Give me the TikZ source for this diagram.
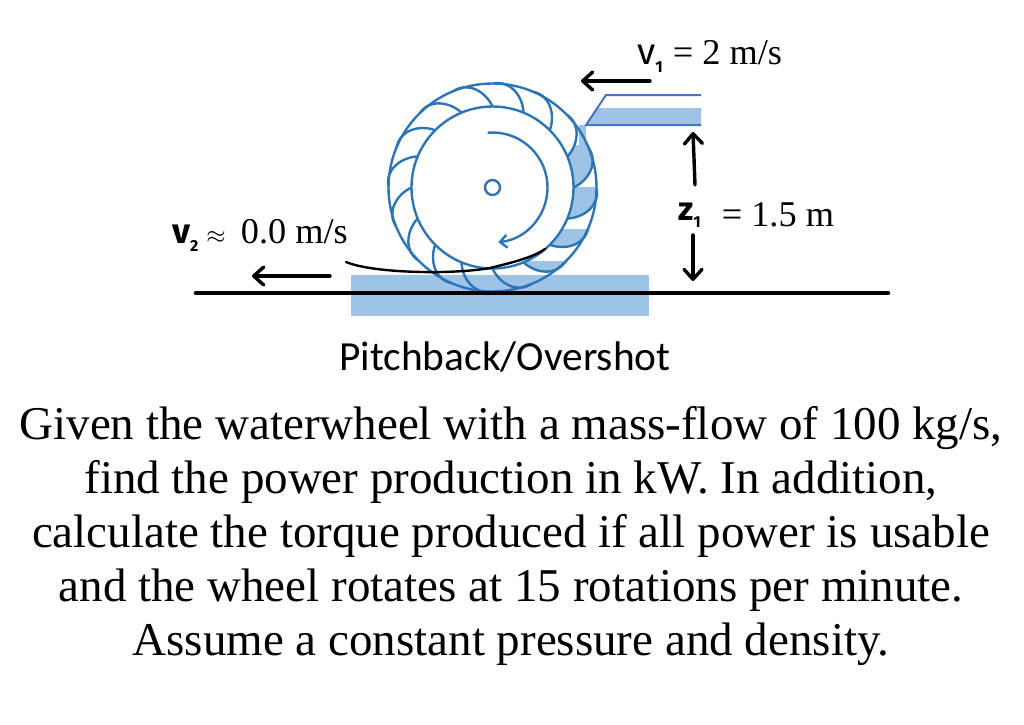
\documentclass[tikz,border=0pt]{standalone}
\usepackage{fontspec}
\setmainfont{Liberation Serif}
\newfontfamily\capfont{Carlito}
\newfontfamily\handfont{Fira Sans}
\usetikzlibrary{arrows.meta}
\definecolor{water}{HTML}{9DC3E6}
\definecolor{wheelblue}{HTML}{2E75B6}
\definecolor{chuteblue}{HTML}{4472C4}
\newcommand{\bladecurve}[1]{(#1:81) .. controls (#1+4:96) and (#1+13:109) .. (#1+22:104)}
\newcommand{\hwmain}[1]{{\handfont\fontsize{37}{37}\selectfont #1}}
\newcommand{\hwsub}[1]{\raisebox{-8pt}{\handfont\bfseries\fontsize{16}{16}\selectfont #1}}
\tikzset{
  wheelline/.style={draw=wheelblue,line width=2.4pt},
  chuteline/.style={draw=chuteblue,line width=2pt},
  handarrow/.style={draw=black,line width=3.4pt,line cap=round,-{Straight Barb[length=10pt,width=18pt,round,line width=3.4pt]}},
  label/.style={inner sep=0pt,font=\fontsize{36.3}{40}\selectfont,anchor=base west},
}
\begin{document}
\begin{tikzpicture}[x=1pt,y=-1pt]
\useasboundingbox (0,0) rectangle (1024,724);
% water on the ground and in the chute
\fill[water] (351,275) rectangle (649,316);
\fill[water] (597,108) -- (701,108) -- (701,125) -- (586,125) -- cycle;
\fill[water] (579,125) rectangle (586,150);
\draw[chuteline] (701,95) -- (606,95) -- (586,125) -- (701,125);
% wheel
\begin{scope}[shift={(492.5,187.5)},x=1pt,y=1pt]
  \foreach \a/\lvl in {0/42.5,-22.5/0.5,-45/-41.5,-67.5/-73.5}{
    \begin{scope}
      \pgfmathsetmacro{\b}{\a+22.5}
      \clip \bladecurve{\a} arc[start angle=\a+22,end angle=\a+44.5,radius=104]
        .. controls (\b+13:109) and (\b+4:96) .. (\b:81)
        arc[start angle=\b,end angle=\a,radius=81] -- cycle;
      \fill[water] (-200,\lvl) rectangle (200,-200);
    \end{scope}
  }
  \foreach \a in {0,22.5,...,337.5}{
    \draw[wheelline] \bladecurve{\a};
  }
  \node[circle,wheelline,minimum size=208pt,inner sep=0pt] (outer) at (0,0) {};
  \node[circle,wheelline,minimum size=162pt,inner sep=0pt] (inner) at (0,0) {};
  \node[circle,wheelline,minimum size=15pt,inner sep=0pt] (hub) at (0,0) {};
  \draw[wheelline,-{Straight Barb[length=7pt,width=13pt]}] (95:55) arc[start angle=95,end angle=-84,radius=55];
\end{scope}
% ground and tailwater surface
\coordinate (gl) at (196,293);
\coordinate (gr) at (888,293);
\draw[line width=4.6pt,line cap=round] (gl) -- (gr);
\coordinate (sa) at (346,262);
\coordinate (sb) at (545,249);
\draw[line width=2.4pt,line cap=round] (sa) .. controls (372,273) and (450,275) .. (490,268) .. controls (510,263) and (532,258) .. (sb);
% hand-drawn arrows
\coordinate (a1s) at (650,81); \coordinate (a1e) at (581,81);
\coordinate (a2s) at (330,276); \coordinate (a2e) at (252,276);
\coordinate (a3s) at (695,185); \coordinate (a3e) at (693,132);
\coordinate (a4s) at (693,235); \coordinate (a4e) at (693,281);
\draw[handarrow] (a1s) -- (a1e);
\draw[handarrow] (a2s) -- (a2e);
\draw[handarrow] (a3s) -- (a3e);
\draw[handarrow] (a4s) -- (a4e);
% labels
\node[label] (v1) at (637,64) {\hwmain{v}\hwsub{1}\hspace{10pt}= 2 m/s};
\node[label] (v2) at (172,243) {{\handfont\bfseries\fontsize{35}{35}\selectfont v}\hwsub{2}\hspace{8pt}$\approx$\hspace{6pt} 0.0 m/s};
\node[label] (z1) at (678,226) {\raisebox{6pt}{\handfont\bfseries\fontsize{33}{33}\selectfont z}\raisebox{-1pt}{\handfont\bfseries\fontsize{16}{16}\selectfont 1}\hspace{21pt}= 1.5 m};
\node[inner sep=0pt,font=\capfont\fontsize{41.4}{45}\selectfont] (cap) at (505,357) {Pitchback/Overshot};
\node[inner sep=0pt,align=center,font=\fontsize{47}{54}\selectfont] (body) at (511,536) {Given the waterwheel with a mass-flow of 100 kg/s,\\
find the power production in kW. In addition,\\
calculate the torque produced if all power is usable\\
and the wheel rotates at 15 rotations per minute.\\
Assume a constant pressure and density.};
\end{tikzpicture}
\end{document}
